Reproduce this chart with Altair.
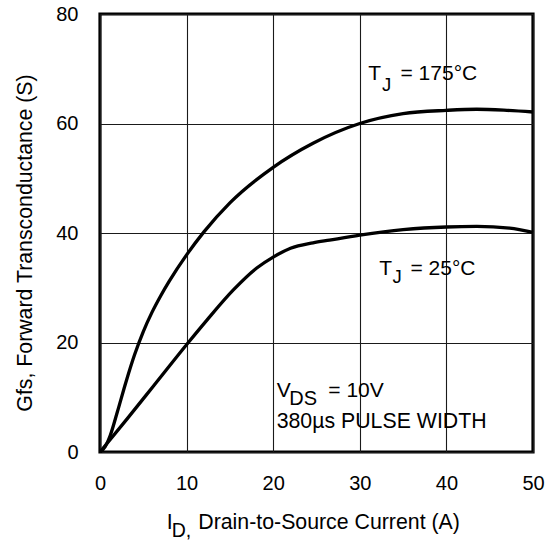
import altair as alt
import pandas as pd

# ---- data ----
id_175 = [0, 0.6, 1.2, 2.0, 3.0, 4.0, 5.0, 6.0, 7.0, 8.0, 10, 12, 15, 20, 24.6, 30, 35, 40, 43.5, 47, 50]
gfs_175 = [0, 1.0, 3.1, 7.3, 12.8, 17.8, 22.0, 25.5, 28.5, 31.2, 36.0, 40.2, 45.5, 52.0, 56.4, 60.0, 61.8, 62.4, 62.6, 62.4, 62.1]

id_25 = [0, 3.13, 6.2, 10.2, 12.3, 15.4, 18.1, 20, 22, 24.6, 26.5, 30, 35, 40, 43.5, 47.3, 50]
gfs_25 = [0, 6.05, 12.1, 20.0, 24.0, 29.6, 33.6, 35.6, 37.2, 38.2, 38.7, 39.6, 40.6, 41.1, 41.2, 40.9, 40.1]

x_ticks = [0, 10, 20, 30, 40, 50]
y_ticks = [0, 20, 40, 60, 80]

# annotation texts (data coordinates)
ann_text = ["T", "J", "= 175°C", "T", "J", "= 25°C", "V", "DS", "= 10V", "380µs PULSE WIDTH"]
ann_x = [30.98, 32.55, 34.7, 32.26, 33.78, 35.85, 20.4, 21.86, 26.36, 20.4]
ann_y = [67.9, 66.0, 67.9, 32.33, 30.8, 32.33, 10.1, 8.58, 10.1, 4.33]
ann_size = [21, 18.5, 21, 21, 18.5, 21, 21, 20, 21, 21.3]

FONT = "Liberation Sans"

curves = pd.DataFrame({
    "x": id_175 + id_25,
    "y": gfs_175 + gfs_25,
    "series": ["175"] * len(id_175) + ["25"] * len(id_25),
})
ann = pd.DataFrame({"x": ann_x, "y": ann_y, "text": ann_text, "size": ann_size})

xs = alt.Scale(domain=[0, 50], nice=False, zero=False)
ys = alt.Scale(domain=[0, 80], nice=False, zero=False)

lines = alt.Chart(curves).mark_line(
    color="black", strokeWidth=3.3, interpolate="monotone"
).encode(
    x=alt.X("x:Q", scale=xs, axis=alt.Axis(
        values=x_ticks, title=None, grid=True, ticks=False, domain=False,
        labelFont=FONT, labelFontSize=20, labelColor="black", labelPadding=21,
        labelFlush=False, gridColor="#1a1a1a", gridWidth=1.1)),
    y=alt.Y("y:Q", scale=ys, axis=alt.Axis(
        values=y_ticks, title=None, grid=True, ticks=False, domain=False,
        labelFont=FONT, labelFontSize=20, labelColor="black", labelPadding=22,
        labelFlush=False, gridColor="#1a1a1a", gridWidth=1.1)),
    detail="series:N",
)

texts = alt.Chart(ann).mark_text(
    align="left", baseline="alphabetic", font=FONT, color="black"
).encode(
    x=alt.X("x:Q", scale=xs),
    y=alt.Y("y:Q", scale=ys),
    text="text:N",
    size=alt.Size("size:Q", scale=None, legend=None),
)

title_df = pd.DataFrame({"t": [0]})
ytitle = alt.Chart(title_df).mark_text(
    text="Gfs, Forward Transconductance (S)", angle=270, font=FONT, fontSize=21.3,
    align="center", baseline="middle", color="black"
).encode(x=alt.value(-74), y=alt.value(229))

xt1 = alt.Chart(title_df).mark_text(
    text="I", font=FONT, fontSize=21.3, align="left", baseline="alphabetic", color="black"
).encode(x=alt.value(66.7), y=alt.value(515.3))
xt2 = alt.Chart(title_df).mark_text(
    text="D,", font=FONT, fontSize=19.5, align="left", baseline="alphabetic", color="black"
).encode(x=alt.value(71.7), y=alt.value(522.5))
xt3 = alt.Chart(title_df).mark_text(
    text="Drain-to-Source Current (A)", font=FONT, fontSize=21.3, align="left",
    baseline="alphabetic", color="black"
).encode(x=alt.value(98.3), y=alt.value(515.3))

chart = alt.layer(lines, texts, ytitle, xt1, xt2, xt3).properties(
    width=433, height=438,
    autosize=alt.AutoSizeParams(type="none"),
    padding={"left": 100, "top": 14, "right": 18, "bottom": 90},
    background="white",
).configure_view(
    stroke="black", strokeWidth=3.2
)

chart.save("out.html", embed_options={"renderer": "svg", "actions": False})
